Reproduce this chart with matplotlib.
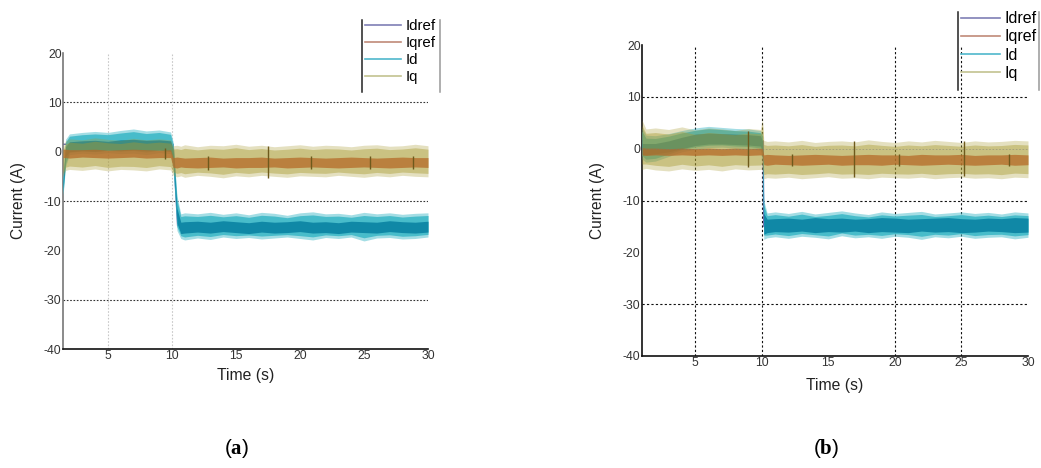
import numpy as np
import matplotlib
matplotlib.use("Agg")
import matplotlib.pyplot as plt
from matplotlib.lines import Line2D

plt.rcParams['font.family'] = ['Liberation Sans', 'DejaVu Sans']
plt.rcParams['axes.unicode_minus'] = False
plt.rcParams['mathtext.fontset'] = 'custom'
plt.rcParams['mathtext.rm'] = 'Liberation Serif'
plt.rcParams['mathtext.bf'] = 'Liberation Serif:bold'

# ---- case (a) : envelopes of the measured currents (A) vs time (s)
ta = [1.5, 1.7, 2, 3, 4, 5, 6, 7, 8, 9, 9.9, 10.1, 10.4, 10.7, 11,
      12, 13, 14, 15, 16, 17, 18, 19, 20, 21, 22, 23, 24, 25, 26, 27, 28, 29, 30]
id_hi_a = [-5.0, 2.5, 3.6, 3.9, 4.1, 3.9, 4.3, 4.6, 4.2, 4.4, 4.0, 2.0, -9.0, -12.6, -12.4,
           -12.6, -12.3, -12.7, -12.4, -12.8, -12.3, -12.5, -12.9, -12.4, -12.2, -12.6, -12.5,
           -12.8, -12.3, -12.6, -12.4, -12.7, -12.5, -12.4]
id_lo_a = [-9.0, -3.0, -0.6, -0.3, -0.5, -0.2, -0.4, -0.3, -0.6, -0.2, -0.4, -3.5, -16.0, -17.6, -17.9,
           -17.5, -17.8, -17.3, -17.6, -17.4, -17.7, -17.5, -17.3, -17.6, -17.9, -17.4, -17.6,
           -17.3, -18.1, -17.5, -17.4, -17.7, -17.6, -17.3]
idc_hi_a = [-6.0, 1.0, 2.0, 2.2, 2.3, 2.1, 2.4, 2.5, 2.3, 2.4, 2.2, 0.5, -11.5, -14.3, -14.2,
            -14.1, -14.3, -14.0, -14.2, -14.4, -14.1, -14.3, -14.2, -14.0, -14.3, -14.2, -14.4,
            -14.1, -14.2, -14.3, -14.0, -14.2, -14.3, -14.1]
idc_lo_a = [-8.0, -1.0, 0.0, 0.2, 0.1, 0.3, 0.2, 0.4, 0.2, 0.3, 0.1, -1.5, -14.5, -16.6, -16.5,
            -16.3, -16.5, -16.2, -16.4, -16.6, -16.3, -16.5, -16.4, -16.2, -16.5, -16.4, -16.6,
            -16.3, -16.4, -16.5, -16.2, -16.4, -16.5, -16.3]
iq_hi_a = [1.0, 2.2, 2.6, 2.4, 2.8, 2.5, 2.3, 2.7, 2.4, 2.6, 2.4, 1.2, 1.3, 1.1, 1.4,
           1.0, 1.3, 1.2, 1.5, 1.1, 1.3, 1.0, 1.2, 1.4, 1.1, 1.3, 1.2, 1.0, 1.3, 1.4, 1.1, 1.2, 1.5, 1.2]
iq_lo_a = [-5.0, -3.8, -3.6, -3.8, -3.5, -3.9, -3.6, -3.7, -3.9, -3.5, -3.7, -4.8, -5.1, -4.9, -5.2,
           -4.8, -5.0, -5.3, -4.9, -5.1, -4.8, -5.0, -5.2, -4.9, -5.0, -5.1, -4.8, -5.0, -5.2,
           -4.9, -5.1, -4.8, -5.0, -5.1]
iqr_hi_a = [0.5, 0.5, 0.4, 0.4, 0.5, 0.3, 0.4, 0.5, 0.4, 0.3, 0.4, -1.2, -1.1, -1.2, -1.3,
            -1.2, -1.1, -1.3, -1.2, -1.2, -1.1, -1.3, -1.2, -1.1, -1.2, -1.3, -1.2, -1.1, -1.2,
            -1.3, -1.2, -1.1, -1.2, -1.2]
iqr_lo_a = [-1.2, -1.2, -1.3, -1.1, -1.2, -1.3, -1.2, -1.1, -1.3, -1.2, -1.2, -3.2, -3.3, -3.1, -3.2,
            -3.3, -3.2, -3.1, -3.3, -3.2, -3.2, -3.1, -3.3, -3.2, -3.1, -3.2, -3.3, -3.2, -3.1,
            -3.2, -3.3, -3.2, -3.1, -3.2]
idref_t_a = [1.5, 10.1, 10.45, 30]
idref_a = [1.5, 1.5, -15, -15]
steps_t_a = [9.5, 12.8, 17.5, 20.9, 25.5, 28.8]
steps_lo_a = [-1.5, -3.8, -5.3, -3.6, -3.6, -3.6]
steps_hi_a = [0.8, -0.8, 1.2, -0.8, -0.8, -0.8]

# ---- case (b)
tb = [1, 1.3, 2, 3, 4, 5, 6, 7, 8, 9, 9.9, 10.05, 10.15, 10.4, 11,
      12, 13, 14, 15, 16, 17, 18, 19, 20, 21, 22, 23, 24, 25, 26, 27, 28, 29, 30]
id_hi_b = [4.0, 2.6, 2.5, 2.9, 3.5, 4.0, 4.3, 4.1, 3.9, 3.8, 3.5, 3.0, -10.0, -12.4, -12.2,
           -12.5, -12.1, -12.6, -12.3, -12.0, -12.4, -12.7, -12.2, -12.5, -12.3, -12.1, -12.6,
           -12.4, -12.2, -12.5, -12.3, -12.6, -12.2, -12.4]
id_lo_b = [-2.0, -2.6, -2.4, -1.5, -0.6, -0.1, 0.2, 0.3, 0.1, 0.0, -0.3, -2.0, -17.5, -17.2, -17.0,
           -17.3, -16.9, -17.1, -17.4, -16.8, -17.2, -17.0, -17.3, -16.9, -17.1, -17.5, -17.0,
           -17.2, -16.9, -17.3, -17.1, -17.0, -17.4, -17.1]
idc_hi_b = [1.0, 1.0, 1.0, 1.5, 2.2, 2.8, 3.0, 2.9, 2.8, 2.7, 2.5, 1.5, -12.5, -13.6, -13.5,
            -13.4, -13.6, -13.3, -13.5, -13.4, -13.6, -13.5, -13.3, -13.4, -13.6, -13.5, -13.4,
            -13.3, -13.5, -13.6, -13.4, -13.5, -13.3, -13.4]
idc_lo_b = [-1.2, -1.2, -1.0, -0.6, 0.0, 0.6, 0.9, 0.9, 0.8, 0.7, 0.5, -0.5, -16.5, -16.2, -16.0,
            -16.1, -15.9, -16.2, -16.0, -16.1, -15.9, -16.2, -16.0, -16.1, -16.2, -15.9, -16.1,
            -16.0, -16.2, -16.1, -15.9, -16.0, -16.2, -16.1]
iq_hi_b = [5.5, 3.8, 4.0, 3.7, 4.2, 3.6, 4.0, 3.8, 3.5, 3.9, 3.7, 5.9, 1.6, 1.4, 1.5,
           1.3, 1.6, 1.2, 1.4, 1.5, 1.3, 1.7, 1.4, 1.2, 1.5, 1.3, 1.6, 1.4, 1.2, 1.5, 1.3, 1.4, 1.6, 1.5]
iq_lo_b = [-4.0, -3.8, -4.1, -4.3, -3.9, -4.2, -4.0, -4.3, -3.9, -4.1, -4.0, -4.0, -5.8, -5.6, -5.7,
           -5.5, -5.8, -5.6, -5.4, -5.7, -5.6, -5.8, -5.5, -5.6, -5.7, -5.5, -5.8, -5.6, -5.5,
           -5.7, -5.6, -5.8, -5.5, -5.6]
iqr_hi_b = [0.2, 0.1, 0.1, 0.0, 0.1, 0.0, 0.1, 0.0, 0.1, 0.0, 0.1, 0.0, -1.2, -1.1, -1.2,
            -1.3, -1.2, -1.1, -1.2, -1.3, -1.2, -1.1, -1.2, -1.2, -1.3, -1.1, -1.2, -1.2, -1.1,
            -1.3, -1.2, -1.2, -1.1, -1.2]
iqr_lo_b = [-1.2, -1.3, -1.2, -1.3, -1.2, -1.3, -1.2, -1.3, -1.2, -1.3, -1.2, -1.3, -3.1, -3.2, -3.0,
            -3.1, -3.2, -3.1, -3.0, -3.2, -3.1, -3.1, -3.2, -3.0, -3.1, -3.2, -3.1, -3.0, -3.1,
            -3.2, -3.1, -3.0, -3.2, -3.1]
idref_t_b = [1, 10.1, 10.15, 30]
idref_b = [1.5, 1.5, -15, -15]
steps_t_b = [9.0, 12.3, 16.9, 20.3, 25.2, 28.6]
steps_lo_b = [-3.5, -3.3, -5.5, -3.3, -5.3, -3.3]
steps_hi_b = [3.5, -1.0, 1.5, -1.0, 1.5, -1.0]

labels = ['Idref', 'Iqref', 'Id', 'Iq']
legend_colors = ['#7f7fb5', '#c08a78', '#4fb8cc', '#c2c290']
xticks = [5, 10, 15, 20, 25, 30]
yticks = [-40, -30, -20, -10, 0, 10, 20]

C_ID = '#48bcca'
C_IDCORE = '#1088a6'
C_IQ = '#a89a30'
C_IQREF = '#b56a28'
C_IDREF = '#6a6ab0'


def band(ax, t, lo, hi, color, alpha, z):
    # noisy trace drawn as a soft outer envelope plus a denser inner one
    lo = np.asarray(lo)
    hi = np.asarray(hi)
    mid = (lo + hi) / 2
    half = (hi - lo) / 2
    a_out = alpha * 0.5
    a_in = 1 - (1 - alpha) / (1 - a_out)
    ax.fill_between(t, lo, hi, color=color, alpha=a_out, lw=0, zorder=z)
    ax.fill_between(t, mid - 0.78 * half, mid + 0.78 * half, color=color, alpha=a_in, lw=0, zorder=z)


def draw_panel(ax, t, id_hi, id_lo, idc_hi, idc_lo, iq_hi, iq_lo, iqr_hi, iqr_lo,
               idref_t, idref, st_t, st_lo, st_hi):
    ax.plot(idref_t, idref, color=C_IDREF, lw=1, zorder=2)
    band(ax, t, id_lo, id_hi, C_ID, 0.999, 3)
    ax.fill_between(t, idc_lo, idc_hi, color=C_IDCORE, lw=0, zorder=3)
    band(ax, t, iq_lo, iq_hi, C_IQ, 0.6, 4)
    ax.fill_between(t, iqr_lo, iqr_hi, color=C_IQREF, alpha=0.75, lw=0, zorder=5)
    ax.vlines(st_t, st_lo, st_hi, color='#6e5a1c', lw=1, zorder=6)


fig = plt.figure(figsize=(10.41, 4.68), dpi=100)
axa = fig.add_axes([63 / 1041, 1 - 349 / 468, 365 / 1041, 296 / 468])
axb = fig.add_axes([642 / 1041, 1 - 356 / 468, 386 / 1041, 311 / 468])

draw_panel(axa, ta, id_hi_a, id_lo_a, idc_hi_a, idc_lo_a, iq_hi_a, iq_lo_a, iqr_hi_a, iqr_lo_a,
           idref_t_a, idref_a, steps_t_a, steps_lo_a, steps_hi_a)
draw_panel(axb, tb, id_hi_b, id_lo_b, idc_hi_b, idc_lo_b, iq_hi_b, iq_lo_b, iqr_hi_b, iqr_lo_b,
           idref_t_b, idref_b, steps_t_b, steps_lo_b, steps_hi_b)

# grid lines (only the ones that show)
for y in [10, -10, -30]:
    axa.axhline(y, color='#333333', ls=(0, (1.5, 1.5)), lw=0.8, zorder=1)
for x in [5, 10]:
    axa.axvline(x, color='#c8c8c8', ls=(0, (1.5, 1.5)), lw=0.8, zorder=1)
for y in [10, -10, -30]:
    axb.axhline(y, color='#111111', ls=(0, (2, 2)), lw=0.8, zorder=1)
axb.axhline(0, color='#777777', ls=(0, (2, 2)), lw=0.6, zorder=7, alpha=0.5)
for x in [5, 10, 20, 25]:
    axb.axvline(x, color='#111111', ls=(0, (2, 2)), lw=0.8, zorder=1)

for ax, x0, spcol, lp in [(axa, 1.5, '#777777', 4), (axb, 1.0, '#111111', 6)]:
    ax.set_xlim(x0, 30)
    ax.set_ylim(-40, 20)
    ax.set_xticks(xticks)
    ax.set_yticks(yticks)
    ax.tick_params(length=0, labelsize=8.8, colors='#333333', pad=1)
    ax.spines['top'].set_visible(False)
    ax.spines['right'].set_visible(False)
    ax.spines['left'].set_color(spcol)
    ax.spines['bottom'].set_color('#111111')
    ax.spines['left'].set_linewidth(1.2)
    ax.spines['bottom'].set_linewidth(1.2)
    ax.set_xlabel('Time (s)', fontsize=11.3, color='#222222', labelpad=lp)
    ax.set_ylabel('Current (A)', fontsize=11.2, color='#222222')

axa.yaxis.set_label_coords(-0.101, 0.5)
axb.yaxis.set_label_coords(-0.096, 0.5)

handles = [Line2D([], [], color=c, lw=1.2) for c in legend_colors]
for (lx0, lx1, ly0, ly1, fs) in [(362, 440, 20, 92, 10.8), (958, 1039, 12, 90, 11.5)]:
    fig.legend(handles, labels, loc='upper left',
               bbox_to_anchor=(lx0 / 1041, 1 - (ly0 - 4) / 468),
               frameon=False, fontsize=fs, handlelength=2.4, handletextpad=0.3,
               labelspacing=0.2, borderaxespad=0, borderpad=0.2)
    for lx in (lx0, lx1):
        fig.add_artist(Line2D([lx / 1041, lx / 1041], [1 - ly0 / 468, 1 - ly1 / 468],
                              color='#222222' if lx == lx0 else '#999999', lw=1.1))

fig.text(237 / 1041, 1 - 449 / 468, r'($\mathbf{a}$)', ha='center', va='center', fontsize=15)
fig.text(826 / 1041, 1 - 449 / 468, r'($\mathbf{b}$)', ha='center', va='center', fontsize=15)

fig.savefig('out.png', dpi=100)
